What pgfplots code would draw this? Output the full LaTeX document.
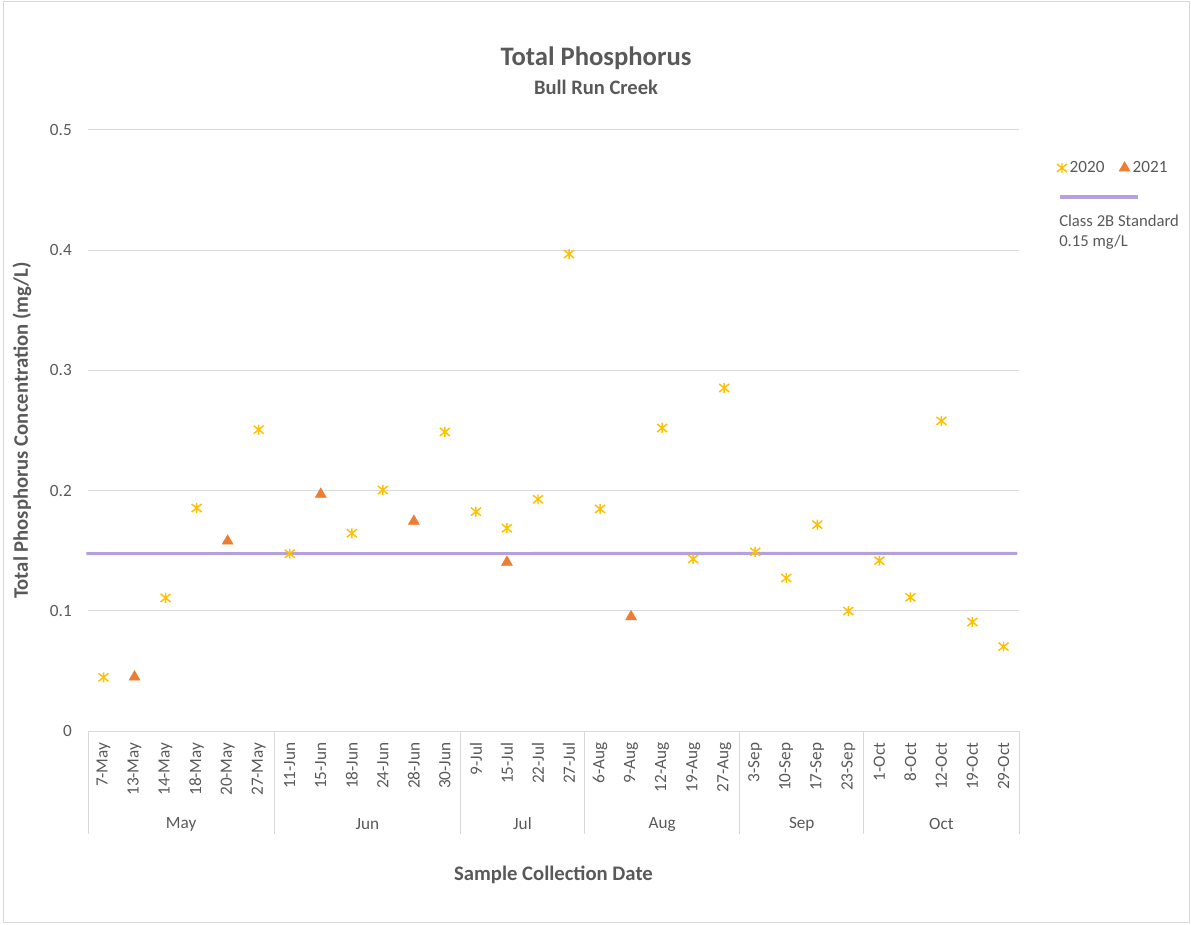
\documentclass[border=0pt]{standalone}
\usepackage{pgfplots}
\pgfplotsset{compat=1.18}
\usepackage{fontspec}
\setmainfont{Carlito}
\definecolor{txt}{HTML}{595959}
\definecolor{gridc}{HTML}{D9D9D9}
\definecolor{c2020}{HTML}{FFC000}
\definecolor{c2021}{HTML}{ED7D31}
\definecolor{stdc}{HTML}{B4A0DA}
\pgfdeclareplotmark{xstar}{%
  \pgfpathmoveto{\pgfqpoint{0pt}{\pgfplotmarksize}}%
  \pgfpathlineto{\pgfqpoint{0pt}{-\pgfplotmarksize}}%
  \pgfpathmoveto{\pgfqpoint{-\pgfplotmarksize}{0.8\pgfplotmarksize}}%
  \pgfpathlineto{\pgfqpoint{\pgfplotmarksize}{-0.8\pgfplotmarksize}}%
  \pgfpathmoveto{\pgfqpoint{-\pgfplotmarksize}{-0.8\pgfplotmarksize}}%
  \pgfpathlineto{\pgfqpoint{\pgfplotmarksize}{0.8\pgfplotmarksize}}%
  \pgfusepathqstroke}
\begin{document}
\begin{tikzpicture}
\useasboundingbox (0,0) rectangle (893.25pt,693pt);
\draw[gridc, line width=0.75pt] (2.25pt,1.5pt) rectangle (891.75pt,691.5pt);
\node[font=\fontsize{20}{24}\selectfont\bfseries, text=txt] at (447pt,649.5pt) {Total Phosphorus};
\node[font=\fontsize{15.4}{18}\selectfont\bfseries, text=txt] at (447pt,627.75pt) {Bull Run Creek};
\begin{axis}[
  at={(66pt,144.75pt)}, anchor=south west,
  scale only axis, width=698.25pt, height=450.75pt,
  xmin=-0.5, xmax=29.5, ymin=0, ymax=0.5,
  clip=false,
  axis line style={draw=none},
  major tick length=0pt,
  ymajorgrids, grid style={gridc, line width=0.75pt},
  ytick={0,0.1,0.2,0.3,0.4,0.5},
  yticklabels={0,0.1,0.2,0.3,0.4,0.5},
  yticklabel style={font=\fontsize{12.9}{15}\selectfont, text=txt, anchor=east, inner sep=0pt},
  yticklabel shift=12pt,
  xtick={0,...,29},
  xticklabels={7-May,13-May,14-May,18-May,20-May,27-May,11-Jun,15-Jun,18-Jun,24-Jun,28-Jun,30-Jun,9-Jul,15-Jul,22-Jul,27-Jul,6-Aug,9-Aug,12-Aug,19-Aug,27-Aug,3-Sep,10-Sep,17-Sep,23-Sep,1-Oct,8-Oct,12-Oct,19-Oct,29-Oct},
  xticklabel style={font=\fontsize{12.9}{15}\selectfont, text=txt, rotate=90, anchor=east, inner sep=0pt},
  xticklabel shift=8.5pt,
  ylabel={Total Phosphorus Concentration (mg/L)},
  ylabel style={font=\fontsize{15.5}{18}\selectfont\bfseries, text=txt, at={(axis description cs:-0.0709,0.5)}, anchor=center},
  xlabel={Sample Collection Date},
  xlabel style={font=\fontsize{15.5}{18}\selectfont\bfseries, text=txt, at={(axis description cs:0.5,-0.2396)}, anchor=center},
  legend columns=2,
  legend style={at={(axis description cs:1.0405,0.9368)}, anchor=west, draw=none, fill=none,
    font=\fontsize{12.9}{15}\selectfont, text=txt, inner sep=0pt,
    /tikz/every even column/.append style={column sep=9pt}},
  legend image code/.code={\draw[#1] plot coordinates {(0.25cm,0cm)};},
]
\addplot[only marks, mark=xstar, mark size=3.75pt, draw=c2020, line width=1.1pt] coordinates {
(0,0.0447) (2,0.1107) (3,0.1855) (5,0.2507) (6,0.1475) (8,0.1645) (9,0.2005) (11,0.2488)
(12,0.1825) (13,0.1687) (14,0.1928) (15,0.3968) (16,0.1847) (18,0.2521) (19,0.1431) (20,0.2854)
(21,0.149) (22,0.1273) (23,0.1717) (24,0.0998) (25,0.1417) (26,0.1112) (27,0.258) (28,0.0907) (29,0.0702)
};
\addlegendentry{2020}
\addplot[only marks, mark=triangle*, mark size=4.7pt, draw=c2021, fill=c2021] coordinates {
(1,0.045) (4,0.158) (7,0.197) (10,0.1745) (13,0.1404) (17,0.0951)
};
\addlegendentry{2021}
\addplot[stdc, line width=2.3pt, forget plot] coordinates {(-0.55,0.1475) (29.45,0.1478)};
\foreach \s in {-0.5,5.5,11.5,15.5,20.5,24.5,29.5}{
  \edef\temp{\noexpand\draw[gridc, line width=0.75pt] (axis cs:\s,0) -- ([yshift=-77pt]axis cs:\s,0);}\temp
}
\foreach \m/\c in {May/2.5,Jun/8.5,Jul/13.5,Aug/18,Sep/22.5,Oct/27}{
  \edef\temp{\noexpand\node[font=\noexpand\fontsize{12.9}{15}\noexpand\selectfont, text=txt] at (axis cs:\c,0) [yshift=-69.75pt] {\m};}\temp
}
\end{axis}
\draw[stdc, line width=2.3pt] (795pt,545.25pt) -- (853.5pt,545.25pt);
\node[anchor=west, inner sep=0pt, font=\fontsize{12.5}{15}\selectfont, text=txt] at (794.25pt,527.25pt) {Class 2B Standard};
\node[anchor=west, inner sep=0pt, font=\fontsize{12.5}{15}\selectfont, text=txt] at (794.25pt,511.5pt) {0.15 mg/L};
\end{tikzpicture}
\end{document}
